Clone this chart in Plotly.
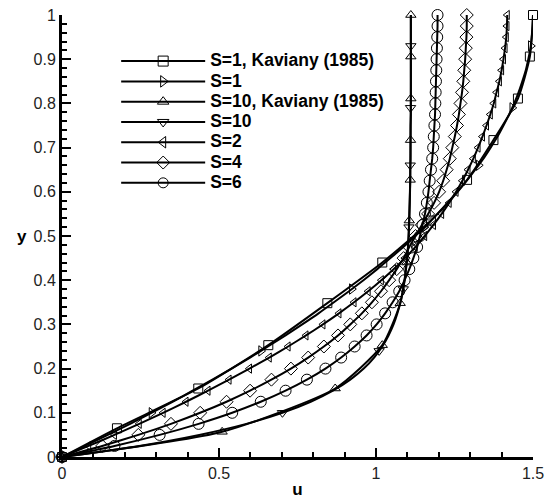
import plotly.graph_objects as go

# ---------------- data ----------------
y_grid = [0.0, 0.025, 0.05, 0.075, 0.1, 0.125, 0.15, 0.175, 0.2, 0.225,
          0.25, 0.275, 0.3, 0.325, 0.35, 0.375, 0.4, 0.425, 0.45, 0.475,
          0.5, 0.525, 0.55, 0.575, 0.6, 0.625, 0.65, 0.675, 0.7, 0.725,
          0.75, 0.775, 0.8, 0.825, 0.85, 0.875, 0.9, 0.925, 0.95, 0.975, 1.0]

u_s1 = [0.0, 0.074, 0.146, 0.217, 0.285, 0.352, 0.416, 0.479, 0.540, 0.599,
        0.656, 0.712, 0.765, 0.817, 0.866, 0.914, 0.960, 1.004, 1.046, 1.087,
        1.125, 1.162, 1.196, 1.229, 1.260, 1.289, 1.316, 1.342, 1.365, 1.387,
        1.406, 1.424, 1.440, 1.454, 1.466, 1.477, 1.485, 1.492, 1.496, 1.499, 1.500]

u_s2 = [0.0, 0.085, 0.167, 0.246, 0.322, 0.395, 0.465, 0.532, 0.597, 0.660,
        0.720, 0.777, 0.831, 0.882, 0.930, 0.975, 1.017, 1.056, 1.092, 1.125,
        1.155, 1.183, 1.209, 1.233, 1.255, 1.275, 1.293, 1.310, 1.325, 1.339,
        1.352, 1.364, 1.375, 1.384, 1.393, 1.400, 1.406, 1.411, 1.415, 1.417, 1.418]

u_s4 = [0.0, 0.128, 0.243, 0.347, 0.440, 0.524, 0.599, 0.667, 0.729, 0.784,
        0.834, 0.879, 0.918, 0.955, 0.987, 1.016, 1.042, 1.066, 1.088, 1.106,
        1.126, 1.146, 1.166, 1.185, 1.201, 1.214, 1.225, 1.235, 1.243, 1.251,
        1.258, 1.264, 1.269, 1.274, 1.278, 1.281, 1.284, 1.286, 1.288, 1.289, 1.289]

u_s6 = [0.0, 0.167, 0.311, 0.435, 0.542, 0.633, 0.712, 0.780, 0.839, 0.889,
        0.932, 0.970, 1.002, 1.029, 1.053, 1.074, 1.091, 1.106, 1.119, 1.131,
        1.140, 1.148, 1.156, 1.162, 1.167, 1.171, 1.175, 1.179, 1.182, 1.184,
        1.186, 1.188, 1.189, 1.190, 1.191, 1.192, 1.193, 1.194, 1.195, 1.196, 1.196]

u_s10 = [0.0, 0.246, 0.437, 0.587, 0.702, 0.792, 0.863, 0.918, 0.961, 0.994,
         1.020, 1.040, 1.056, 1.068, 1.078, 1.085, 1.091, 1.095, 1.099, 1.102,
         1.104, 1.105, 1.106, 1.107, 1.108, 1.109, 1.109, 1.110, 1.110, 1.110,
         1.110, 1.111, 1.111, 1.111, 1.111, 1.111, 1.111, 1.111, 1.111, 1.111, 1.111]

# sparse markers on the S=1 and S=10 model curves
mark_y = [0.0, 0.1, 0.24, 0.38, 0.52, 0.66, 0.79, 0.93]
mark_u_s1 = [0.0, 0.285, 0.634, 0.923, 1.154, 1.327, 1.434, 1.493]
mark_u_s10 = [0.0, 0.702, 1.010, 1.087, 1.105, 1.109, 1.110, 1.111]

# Kaviany (1985) data
kav_y_s1 = [0.0, 0.065, 0.155, 0.253, 0.348, 0.44, 0.535, 0.627, 0.717, 0.811, 0.906, 1.0]
kav_u_s1 = [0.0, 0.175, 0.434, 0.657, 0.845, 1.020, 1.175, 1.290, 1.374, 1.452, 1.490, 1.500]
kav_y_s10 = [0.0, 0.057, 0.155, 0.253, 0.348, 0.44, 0.535, 0.627, 0.717, 0.811, 0.906, 1.0]
kav_u_s10 = [0.0, 0.510, 0.870, 1.020, 1.077, 1.098, 1.106, 1.109, 1.110, 1.111, 1.111, 1.111]

legend_names = ["S=1, Kaviany (1985)", "S=1", "S=10, Kaviany (1985)", "S=10", "S=2", "S=4", "S=6"]
legend_symbols = ["square-open", "triangle-right-open", "triangle-up-open",
                  "triangle-down-open", "triangle-left-open", "diamond-open", "circle-open"]

x_ticks = [0, 0.5, 1, 1.5]
x_ticktext = ["0", "0.5", "1", "1.5"]

# ---------------- figure ----------------
BLACK = "black"
LW = 2
fig = go.Figure()

def line_trace(u, y, sym=None, size=9, mode="lines"):
    kw = dict(x=u, y=y, mode=mode, showlegend=False, cliponaxis=False,
              line=dict(color=BLACK, width=LW, shape="spline", smoothing=0.6),
              hoverinfo="skip")
    if sym is not None:
        kw["marker"] = dict(symbol=sym, size=size, color=BLACK, line=dict(width=1, color=BLACK))
    return go.Scatter(**kw)

# model curves with dense markers
fig.add_trace(line_trace(u_s2, y_grid, "triangle-left-open", 8, "lines+markers"))
fig.add_trace(line_trace(u_s4, y_grid, "diamond-open", 10, "lines+markers"))
fig.add_trace(line_trace(u_s6, y_grid, "circle-open", 11, "lines+markers"))
# model curves with sparse markers
fig.add_trace(line_trace(u_s1, y_grid))
fig.add_trace(line_trace(u_s10, y_grid))
fig.add_trace(go.Scatter(x=mark_u_s1, y=mark_y, mode="markers", showlegend=False, cliponaxis=False,
                         marker=dict(symbol="triangle-right-open", size=9, color=BLACK, line=dict(width=1))))
fig.add_trace(go.Scatter(x=mark_u_s10, y=mark_y, mode="markers", showlegend=False, cliponaxis=False,
                         marker=dict(symbol="triangle-down-open", size=9, color=BLACK, line=dict(width=1))))
# Kaviany data
fig.add_trace(line_trace(kav_u_s1, kav_y_s1, "square-open", 9, "lines+markers"))
fig.add_trace(line_trace(kav_u_s10, kav_y_s10, "triangle-up-open", 9, "lines+markers"))

# legend entries (text drawn larger than the base legend font to keep rows tight)
for name, sym in zip(legend_names, legend_symbols):
    fig.add_trace(go.Scatter(x=[None], y=[None], mode="lines+markers",
                             name='<span style="font-size:17.5px">' + name + '</span>',
                             line=dict(color=BLACK, width=LW),
                             marker=dict(symbol=sym, size=10, color=BLACK, line=dict(width=1))))

font_family = "Liberation Sans, Arial, sans-serif"

fig.update_layout(
    width=547, height=502,
    margin=dict(l=62, r=13.5, t=15, b=45),
    paper_bgcolor="white", plot_bgcolor="white",
    font=dict(family=font_family, color="#222", size=16),
    legend=dict(x=0.115, y=0.93, xanchor="left", yanchor="top",
                bgcolor="rgba(0,0,0,0)", borderwidth=0,
                font=dict(family=font_family, size=13.3, color=BLACK, weight="bold"),
                itemwidth=84, tracegroupgap=0),
    showlegend=True,
)

fig.update_xaxes(
    range=[0, 1.5], tickvals=x_ticks, ticktext=x_ticktext, automargin=False,
    showgrid=False, zeroline=False,
    showline=True, linecolor=BLACK, linewidth=3, mirror=False,
    ticks="inside", ticklen=9, tickwidth=2, tickcolor=BLACK,
    minor=dict(dtick=0.1, ticks="inside", ticklen=5, tickwidth=1.5, tickcolor=BLACK),
    tickfont=dict(size=16, color="#222"),
    title=dict(text="u", font=dict(size=17, color=BLACK, weight="bold"), standoff=2),
)
fig.update_yaxes(
    range=[0, 1], dtick=0.1, tick0=0, automargin=False,
    showgrid=False, zeroline=False,
    showline=True, linecolor=BLACK, linewidth=3, mirror=False,
    ticks="inside", ticklen=9, tickwidth=2, tickcolor=BLACK,
    minor=dict(dtick=0.02, ticks="inside", ticklen=5, tickwidth=1.5, tickcolor=BLACK),
    tickfont=dict(size=16, color="#222"),
)

fig.add_annotation(text="y", xref="paper", yref="paper", x=-0.1, y=0.5,
                   showarrow=False, font=dict(size=17, color=BLACK, weight="bold"))

fig.write_html("out.html")
